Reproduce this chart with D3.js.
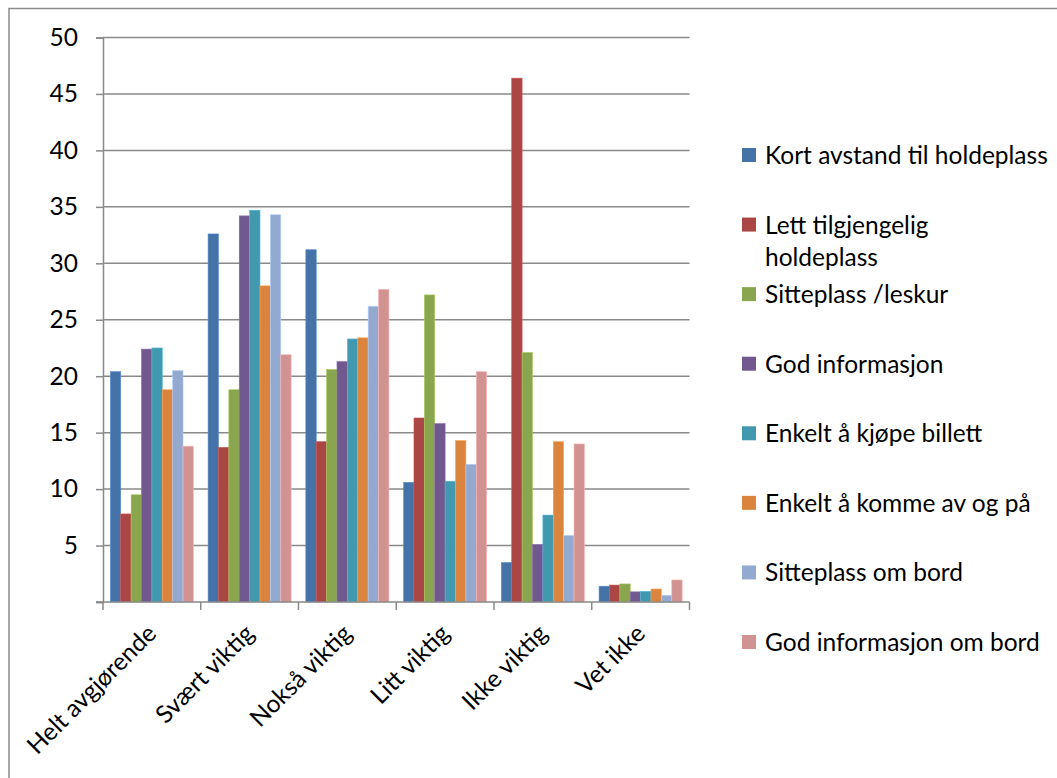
<!DOCTYPE html>
<html lang="no">
<head>
<meta charset="UTF-8">
<title>Viktighet ved holdeplass og om bord</title>
<script src="https://cdnjs.cloudflare.com/ajax/libs/d3/7.8.5/d3.min.js"></script>
<style>
  body { margin: 0; background: #fff; font-family: Lato, "Noto Sans", sans-serif; }
  svg text { fill: #000; }
</style>
</head>
<body>
<div id="chart"></div>
<script>
// categories on the x axis
const categories = ["Helt avgjørende", "Svært viktig", "Nokså viktig", "Litt viktig", "Ikke viktig", "Vet ikke"];

// series names (legend)
const seriesNames = [
  "Kort avstand til holdeplass",
  "Lett tilgjengelig holdeplass",
  "Sitteplass /leskur",
  "God informasjon",
  "Enkelt å kjøpe billett",
  "Enkelt å komme av og på",
  "Sitteplass om bord",
  "God informasjon om bord"
];

// values per series, one per category (percent)
const kortAvstand     = [20.4, 32.6, 31.2, 10.6,  3.5, 1.4];
const lettTilgjengelig = [7.8, 13.7, 14.2, 16.3, 46.4, 1.5];
const sitteplassLeskur = [9.5, 18.8, 20.6, 27.2, 22.1, 1.6];
const godInformasjon  = [22.4, 34.2, 21.3, 15.8,  5.1, 0.9];
const kjopeBillett    = [22.5, 34.7, 23.3, 10.7,  7.7, 0.95];
const avOgPa          = [18.8, 28.0, 23.4, 14.3, 14.2, 1.15];
const sitteplassBord  = [20.5, 34.3, 26.2, 12.2,  5.9, 0.6];
const infoBord        = [13.8, 21.9, 27.7, 20.4, 14.0, 1.95];

const seriesValues = [kortAvstand, lettTilgjengelig, sitteplassLeskur, godInformasjon,
                      kjopeBillett, avOgPa, sitteplassBord, infoBord];

const yTicks = [5, 10, 15, 20, 25, 30, 35, 40, 45, 50];

const colors = ["#4572A7", "#AA4643", "#89A54E", "#71588F", "#4198AF", "#DB843D", "#93A9CF", "#D19392"];

const width = 1057, height = 778;
const plot = { left: 103, right: 689.5, top: 37.5, bottom: 602 };
const fontSize = 24.5;

const svg = d3.select("#chart").append("svg")
  .attr("width", width)
  .attr("height", height);

// outer chart border
svg.append("rect")
  .attr("x", 9).attr("y", 8.5)
  .attr("width", width + 20).attr("height", height + 20)
  .attr("fill", "none")
  .attr("stroke", "#8c8c8c")
  .attr("stroke-width", 1.5);

const x0 = d3.scaleBand().domain(categories).range([plot.left, plot.right]).padding(0);
const x1 = d3.scaleBand().domain(d3.range(seriesNames.length))
  .range([x0.bandwidth() * 0.075, x0.bandwidth() * 0.925]).padding(0);
const y = d3.scaleLinear().domain([0, 50]).range([plot.bottom, plot.top]);

// gridlines
svg.append("g")
  .selectAll("line")
  .data(yTicks)
  .join("line")
  .attr("x1", plot.left).attr("x2", plot.right)
  .attr("y1", d => y(d)).attr("y2", d => y(d))
  .attr("stroke", "#898989")
  .attr("stroke-width", 1.5);

// bars
const groups = svg.append("g")
  .selectAll("g")
  .data(categories)
  .join("g")
  .attr("transform", d => `translate(${x0(d)},0)`);

groups.selectAll("rect")
  .data((c, ci) => seriesValues.map((vals, si) => ({ si, v: vals[ci] })))
  .join("rect")
  .attr("x", d => x1(d.si))
  .attr("y", d => y(d.v))
  .attr("width", x1.bandwidth())
  .attr("height", d => y(0) - y(d.v))
  .attr("fill", d => colors[d.si])
  .attr("stroke", d => d3.color(colors[d.si]).brighter(0.6))
  .attr("stroke-width", 0.6);

// y axis
const yAxis = d3.axisLeft(y).tickValues([0].concat(yTicks)).tickSize(7).tickPadding(18)
  .tickFormat(d => d === 0 ? "" : d);
svg.append("g")
  .attr("transform", `translate(${plot.left},0)`)
  .call(yAxis)
  .call(g => g.select(".domain").attr("stroke", "#898989").attr("stroke-width", 1.5))
  .call(g => g.selectAll(".tick line").attr("stroke", "#898989").attr("stroke-width", 1.5))
  .call(g => g.selectAll(".tick text")
    .attr("font-family", "Lato, 'Noto Sans', sans-serif")
    .attr("font-size", fontSize)
    .attr("fill", "#000"));

// x axis line and ticks at category boundaries
const xAxisG = svg.append("g");
xAxisG.append("line")
  .attr("x1", plot.left - 7).attr("x2", plot.right)
  .attr("y1", plot.bottom).attr("y2", plot.bottom)
  .attr("stroke", "#898989").attr("stroke-width", 1.5);
xAxisG.selectAll("line.tick")
  .data(categories.map(c => x0(c)).concat([plot.right]))
  .join("line")
  .attr("class", "tick")
  .attr("x1", d => d).attr("x2", d => d)
  .attr("y1", plot.bottom).attr("y2", plot.bottom + 8)
  .attr("stroke", "#898989").attr("stroke-width", 1.5);

// rotated category labels
xAxisG.selectAll("text")
  .data(categories)
  .join("text")
  .attr("transform", d => `translate(${x0(d) + x0.bandwidth() / 2 + 6},${plot.bottom + 33}) rotate(-45)`)
  .attr("text-anchor", "end")
  .attr("font-size", fontSize)
  .text(d => d);

// legend
const legendLines = [
  ["Kort avstand til holdeplass"],
  ["Lett tilgjengelig", "holdeplass"],
  ["Sitteplass /leskur"],
  ["God informasjon"],
  ["Enkelt å kjøpe billett"],
  ["Enkelt å komme av og på"],
  ["Sitteplass om bord"],
  ["God informasjon om bord"]
];
const legendY = d3.scalePoint().domain(d3.range(seriesNames.length)).range([155, 642]);

const legend = svg.append("g")
  .selectAll("g")
  .data(seriesNames)
  .join("g")
  .attr("transform", (d, i) => `translate(742,${legendY(i)})`);

legend.append("rect")
  .attr("x", 0).attr("y", -7)
  .attr("width", 14).attr("height", 14)
  .attr("fill", (d, i) => colors[i]);

legend.append("text")
  .attr("x", 23)
  .attr("y", 9)
  .attr("font-size", fontSize)
  .selectAll("tspan")
  .data((d, i) => legendLines[i])
  .join("tspan")
  .attr("x", 23)
  .attr("dy", (d, j) => j === 0 ? 0 : 32)
  .text(d => d);
</script>
</body>
</html>
